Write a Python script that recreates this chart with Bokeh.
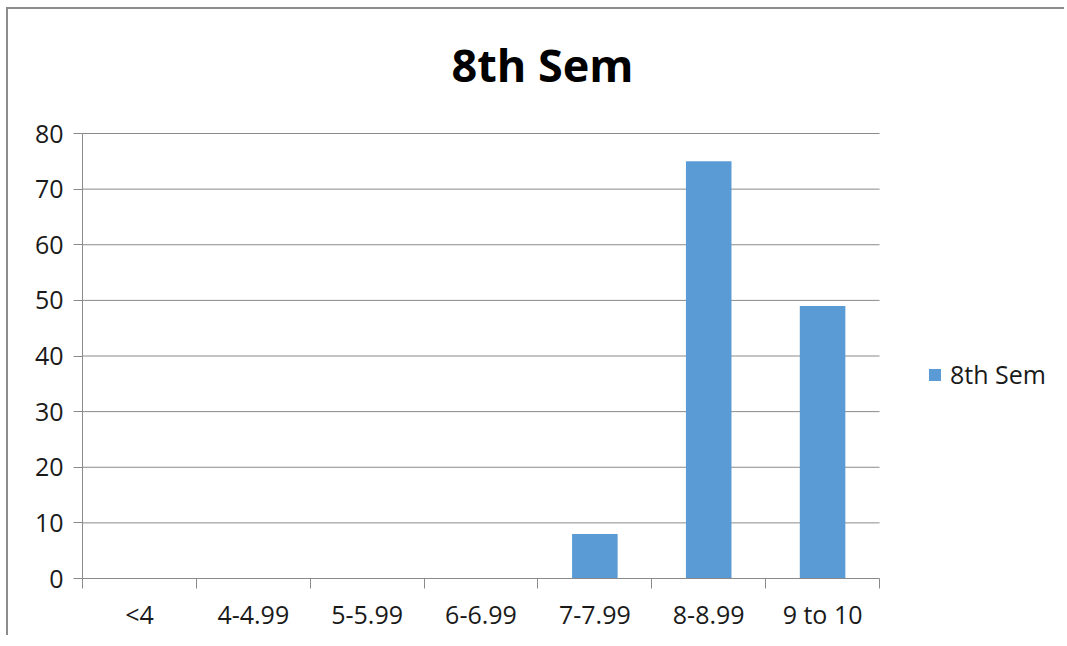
from bokeh.plotting import figure
from bokeh.models import (ColumnDataSource, FixedTicker, Range1d, Legend, LegendItem, Label)
from bokeh.embed import file_html
from bokeh.resources import INLINE

categories = ["<4", "4-4.99", "5-5.99", "6-6.99", "7-7.99", "8-8.99", "9 to 10"]
counts = [0, 0, 0, 0, 8, 75, 49]
series_name = "8th Sem"
title_text = "8th Sem"
y_ticks = [0, 10, 20, 30, 40, 50, 60, 70, 80]

FONT = "Open Sans"
GRAY = "#8a8a8a"
BAR = "#5b9bd5"

n = len(categories)
y_max = y_ticks[-1]
centers = [i + 0.5 for i in range(n)]
bounds = list(range(n + 1))
src = ColumnDataSource(dict(x=centers, top=counts, cat=categories))

# layout in pixels: the value area is 797 x 445 px; the frame is extended
# right (legend) and up (title) so those texts are not clipped
H = 628
MB_BOTTOM = 59
cat_px = 797 / n
y_px = 445 / y_max
frame_w = 982
frame_h = H - MB_BOTTOM
x_end = frame_w / cat_px
y_end = frame_h / y_px

p = figure(width=1058, height=H, output_backend="svg", toolbar_location=None,
           x_range=Range1d(0, x_end), y_range=Range1d(0, y_end),
           min_border_left=74, min_border_right=2, min_border_top=0,
           min_border_bottom=MB_BOTTOM)
p.styles = {"border-left": "2px solid #8c8c8c", "border-top": "2px solid #8c8c8c",
            "margin-left": "6px", "margin-top": "7px"}
p.outline_line_color = None
p.background_fill_color = "white"
p.border_fill_color = "white"

# horizontal gridlines spanning only the category area
p.segment(x0=[0] * len(y_ticks), x1=[n] * len(y_ticks), y0=y_ticks, y1=y_ticks,
          line_color=GRAY, line_width=1)

r = p.vbar(x="x", top="top", width=0.4, bottom=0, source=src, fill_color=BAR, line_color=None)

# title: centre 460 px right of the value area's left edge, above the value area
p.add_layout(Label(x=460 / cat_px, y=514 / y_px, text=title_text,
                   text_font=FONT, text_font_size="45px", text_font_style="bold",
                   text_align="center", text_baseline="alphabetic", text_color="#000000"))

# x axis: labels at centres, ticks at category boundaries
xa = p.xaxis[0]
xa.bounds = (0, n)
xa.ticker = FixedTicker(ticks=centers, minor_ticks=bounds)
xa.major_label_overrides = {c: lab for c, lab in zip(centers, categories)}
xa.major_tick_out = 0
xa.major_tick_in = 0
xa.minor_tick_out = 10
xa.minor_tick_in = 0
xa.minor_tick_line_color = GRAY
xa.axis_line_color = GRAY
xa.major_label_text_font = FONT
xa.major_label_text_font_size = "25px"
xa.major_label_text_color = "#1a1a1a"
xa.major_label_standoff = 8

ya = p.yaxis[0]
ya.bounds = (0, y_max)
ya.ticker = FixedTicker(ticks=y_ticks)
ya.major_tick_out = 9
ya.major_tick_in = 0
ya.minor_tick_out = 0
ya.minor_tick_in = 0
ya.major_tick_line_color = GRAY
ya.axis_line_color = GRAY
ya.major_label_text_font = FONT
ya.major_label_text_font_size = "25px"
ya.major_label_text_color = "#1a1a1a"
ya.major_label_standoff = 10

p.xgrid.grid_line_color = None
p.ygrid.grid_line_color = None

legend = Legend(items=[LegendItem(label=series_name, renderers=[r])], location=(845, 187),
                padding=0, margin=0, border_line_color=None, background_fill_alpha=0,
                glyph_width=15, glyph_height=15, label_standoff=8,
                label_text_font=FONT, label_text_font_size="25px", label_text_color="#1a1a1a")
p.add_layout(legend)

open("out.html", "w").write(file_html(p, INLINE))
